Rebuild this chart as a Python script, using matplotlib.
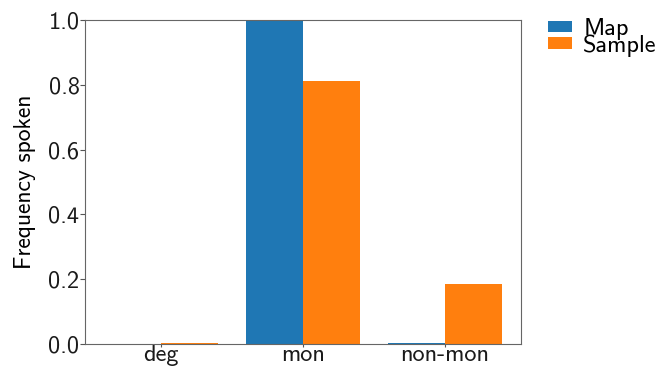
import numpy as np
import matplotlib

matplotlib.use("Agg")
import matplotlib.pyplot as plt  # noqa: E402

plt.rcParams["font.family"] = "cmss10"
plt.rcParams["axes.unicode_minus"] = False
plt.rcParams["mathtext.fontset"] = "cm"

categories = ["deg", "mon", "non-mon"]
map_freq = [0.001, 0.997, 0.003]
sample_freq = [0.002, 0.812, 0.185]

x = np.arange(len(categories))
width = 0.4

fig = plt.figure(figsize=(6.57, 3.70), dpi=100)
ax = fig.add_axes([85 / 657, 1 - 344 / 370, (521 - 85) / 657, (344 - 20) / 370])

ax.bar(x - width / 2, map_freq, width, color="#1f77b4", label="Map")
ax.bar(x + width / 2, sample_freq, width, color="#ff7f0e", label="Sample")

ax.set_xlim(-0.535, 2.535)
ax.set_ylim(0, 1.0)
ax.set_xticks(x)
ax.set_xticklabels(categories)
ax.set_yticks([0.0, 0.2, 0.4, 0.6, 0.8, 1.0])
ax.set_ylabel("Frequency spoken", fontsize=17, labelpad=9)
ax.tick_params(labelsize=17.5, colors="#555555", labelcolor="#1a1a1a", length=3.5, pad=0.5)
ax.tick_params(axis="x", length=2.5, pad=-2.5)
for sp in ax.spines.values():
    sp.set_color("#666666")

ax.legend(loc="upper left", bbox_to_anchor=(1.062, 1.005), frameon=False,
          fontsize=17.5, handlelength=1.0, handleheight=0.33, labelspacing=-0.25,
          handletextpad=0.45, borderaxespad=0, borderpad=0)

plt.savefig("out.png", dpi=100)
